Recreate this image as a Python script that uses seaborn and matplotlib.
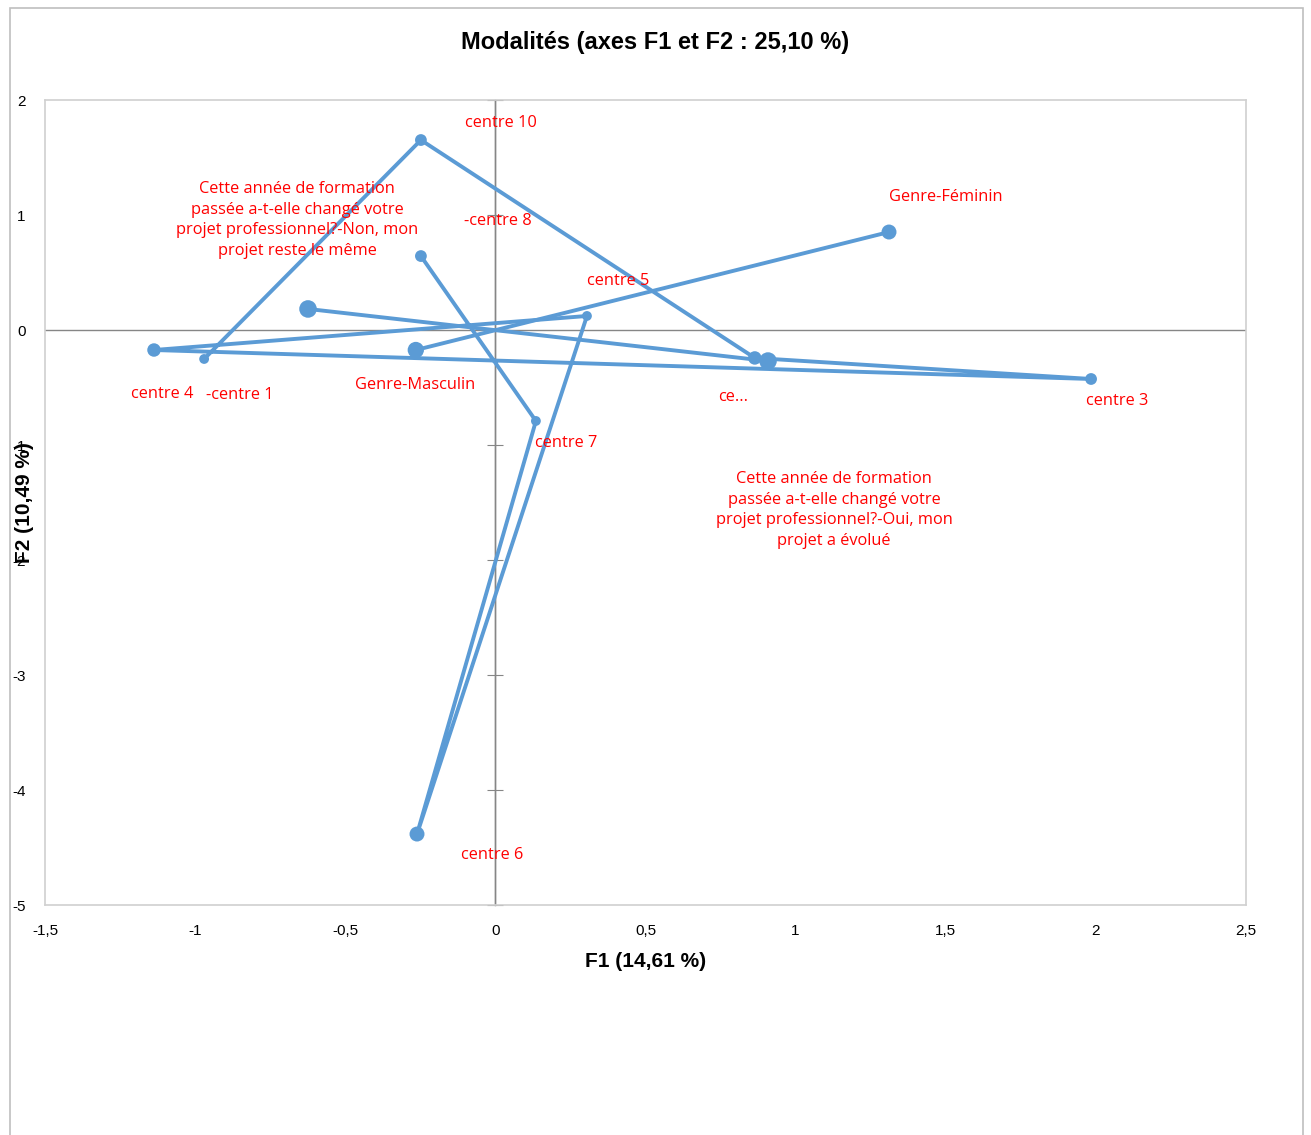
import pandas as pd
import matplotlib
matplotlib.use("Agg")
import matplotlib.pyplot as plt
from matplotlib.patches import Rectangle
import seaborn as sns

# Coordonnées des modalités (F1, F2)
names = ['centre 1', 'centre 10', 'centre 2', 'centre 3', 'centre 4', 'centre 5',
         'centre 6', 'centre 7', 'centre 8',
         'Genre-Féminin', 'Genre-Masculin',
         'Non', 'Oui']
variable = ['centre'] * 9 + ['Genre'] * 2 + ['Projet'] * 2
f1 = [-0.970, -0.248, 0.864, 1.984, -1.137, 0.305, -0.261, 0.135, -0.248,
      1.311, -0.265, -0.624, 0.908]
f2 = [-0.252, 1.652, -0.243, -0.426, -0.174, 0.122, -4.383, -0.791, 0.643,
      0.852, -0.174, 0.183, -0.270]
weight = [1, 2, 3, 2, 3, 1, 4, 1, 2, 4, 5, 6, 6]

# Texte des étiquettes tel qu'affiché
labels = ['-centre 1', 'centre 10', 'ce...', 'centre 3', 'centre 4', 'centre 5',
          'centre 6', 'centre 7', '-centre 8', 'Genre-Féminin', 'Genre-Masculin',
          'Cette année de formation\npassée a-t-elle changé votre\nprojet professionnel?-Non, mon\nprojet reste le même',
          'Cette année de formation\npassée a-t-elle changé votre\nprojet professionnel?-Oui, mon\nprojet a évolué']
# décalage des étiquettes (pixels, y vers le bas)
label_off = [(36, 36), (80, -17), (-22, 39), (26, 22), (8, 44), (31, -35),
             (75, 21), (30, 22), (77, -35), (57, -35), (-1, 35), (-11, -89), (66, 149)]

df = pd.DataFrame({'name': names, 'var': variable, 'F1': f1, 'F2': f2, 'w': weight})

sns.set_style('white')
plt.rcParams['font.family'] = ['Liberation Sans', 'DejaVu Sans']
plt.rcParams['text.color'] = 'black'

blue = '#5b9bd5'
fig = plt.figure(figsize=(13.11, 11.35), dpi=100)
ax = fig.add_axes([45 / 1311, 1 - 905 / 1135, 1201 / 1311, 805 / 1135])

# bordure de la zone de graphique
fig.patches.append(Rectangle((10 / 1311, -0.05), 1293 / 1311, 1.05 - 8 / 1135,
                             transform=fig.transFigure, fill=False,
                             edgecolor='#bfbfbf', lw=1.2))

ax.axhline(0, color='#868686', lw=1, zorder=1)
ax.axvline(0, color='#868686', lw=1, zorder=1)

for v, sub in df.groupby('var', sort=False):
    sns.lineplot(data=sub, x='F1', y='F2', sort=False, estimator=None,
                 color=blue, lw=2.8, ax=ax, zorder=3)

sns.scatterplot(data=df, x='F1', y='F2', size='w', sizes=(50, 160),
                color=blue, edgecolor=blue, linewidth=0, legend=False, ax=ax, zorder=4)

for i in range(len(df)):
    dx, dy = label_off[i]
    ax.annotate(labels[i], (df.F1[i], df.F2[i]), xytext=(dx, -dy),
                textcoords='offset pixels', ha='center', va='center',
                color='#ff0000', fontsize=11.8, family=['Open Sans', 'DejaVu Sans'],
                linespacing=1.4, zorder=5)

ax.set_xlim(-1.5, 2.5)
ax.set_ylim(-5, 2)
ax.set_xticks([-1.5, -1, -0.5, 0, 0.5, 1, 1.5, 2, 2.5])
ax.set_yticks([-5, -4, -3, -2, -1, 0, 1, 2])
ax.set_xticklabels(['-1,5', '-1', '-0,5', '0', '0,5', '1', '1,5', '2', '2,5'])
ax.set_yticklabels(['-5', '-4', '-3', '-2', '-1', '0', '1', '2'])
ax.tick_params(axis='both', length=0, labelsize=11, labelcolor='black')
ax.tick_params(axis='x', pad=14)
ax.tick_params(axis='y', pad=14)

for s in ax.spines.values():
    s.set_color('#d0d0d0')
    s.set_linewidth(1.2)

# graduations sur l'axe vertical en x = 0
ax2 = ax.twinx()
ax2.set_ylim(-5, 2)
ax2.set_yticks([-5, -4, -3, -2, -1, 0, 1, 2])
ax2.spines['right'].set_position(('data', 0))
ax2.spines['right'].set_color('#868686')
ax2.spines['right'].set_linewidth(1)
for k in ['left', 'top', 'bottom']:
    ax2.spines[k].set_visible(False)
ax2.tick_params(axis='y', direction='inout', length=12, color='#868686',
                labelright=False, right=True, left=False)
ax2.set_zorder(0)
ax.set_zorder(1)
ax.patch.set_visible(False)

ax.set_xlabel('F1 (14,61 %)', fontsize=15, fontweight='bold', color='black')
ax.xaxis.label.set_va('center')
ax.xaxis.set_label_coords(0.5, -0.0696)
ax.set_ylabel('F2 (10,49 %)', fontsize=15, fontweight='bold', color='black')
ax.yaxis.label.set_va('center')
ax.yaxis.set_label_coords(-0.0167, 0.5)

fig.text(655 / 1311, 1 - 42 / 1135, 'Modalités (axes F1 et F2 : 25,10 %)',
         ha='center', va='center', fontsize=17, fontweight='bold', color='black')

fig.savefig('out.png', dpi=100)
